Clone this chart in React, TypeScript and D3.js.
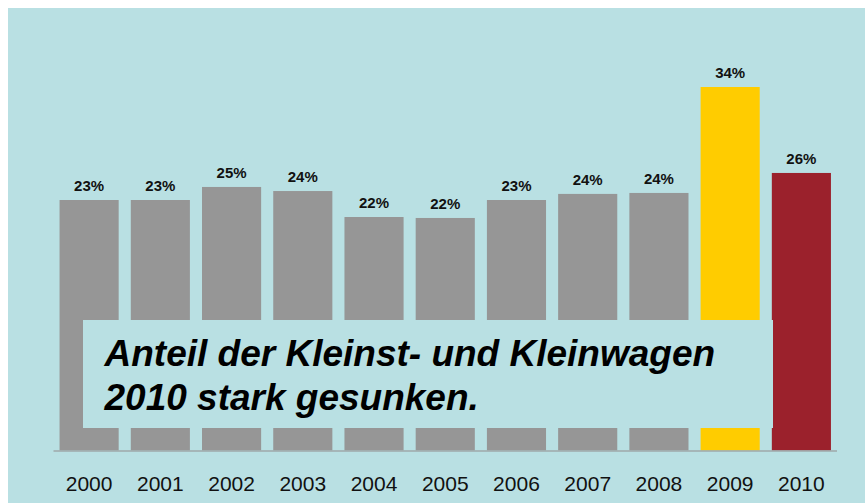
import React from "react";
import * as d3 from "d3";

const years = ["2000", "2001", "2002", "2003", "2004", "2005", "2006", "2007", "2008", "2009", "2010"];
const shares = [23.43, 23.43, 24.65, 24.27, 21.84, 21.75, 23.43, 24.0, 24.09, 34.0, 25.96];
const shareLabels = ["23%", "23%", "25%", "24%", "22%", "22%", "23%", "24%", "24%", "34%", "26%"];
const barColors = ["#969696", "#969696", "#969696", "#969696", "#969696", "#969696", "#969696", "#969696", "#969696", "#ffcc00", "#9b212c"];
const noteLines = ["Anteil der Kleinst- und Kleinwagen", "2010 stark gesunken."];

const W = 865;
const H = 503;
const BG = "#b9e0e3";
const FONT = "'Liberation Sans', Arial, Helvetica, sans-serif";

export default function App() {
  const x = d3.scaleBand<string>().domain(years).range([53.5, 837]).paddingInner(0.17).paddingOuter(0.085);
  const y = d3.scaleLinear().domain([0, 34]).range([450.5, 87]);

  return (
    <svg width={W} height={H} style={{ position: "absolute", left: 0, top: 0 }}>
      <rect x={8} y={8} width={W - 8} height={H - 8} fill={BG} />
      {years.map((yr, i) => (
        <g key={yr}>
          <rect
            x={x(yr)!}
            y={y(shares[i])}
            width={x.bandwidth()}
            height={y(0) - y(shares[i])}
            fill={barColors[i]}
          />
          <text
            x={x(yr)! + x.bandwidth() / 2}
            y={y(shares[i]) - 9}
            textAnchor="middle"
            fontFamily={FONT}
            fontWeight="bold"
            fontSize={15}
            fill="#111"
          >
            {shareLabels[i]}
          </text>
          <text
            x={x(yr)! + x.bandwidth() / 2}
            y={491}
            textAnchor="middle"
            fontFamily={FONT}
            fontSize={21}
            fill="#111"
          >
            {yr}
          </text>
        </g>
      ))}
      <line x1={53.5} x2={837} y1={451} y2={451} stroke="#9fa8aa" strokeWidth={1.5} />
      <rect x={83} y={320} width={690} height={108} fill={BG} />
      {noteLines.map((t, i) => (
        <text
          key={i}
          x={104.5}
          y={366 + i * 44}
          fontFamily={FONT}
          fontWeight="bold"
          fontStyle="italic"
          fontSize={37}
          fill="#000"
        >
          {t}
        </text>
      ))}
    </svg>
  );
}
